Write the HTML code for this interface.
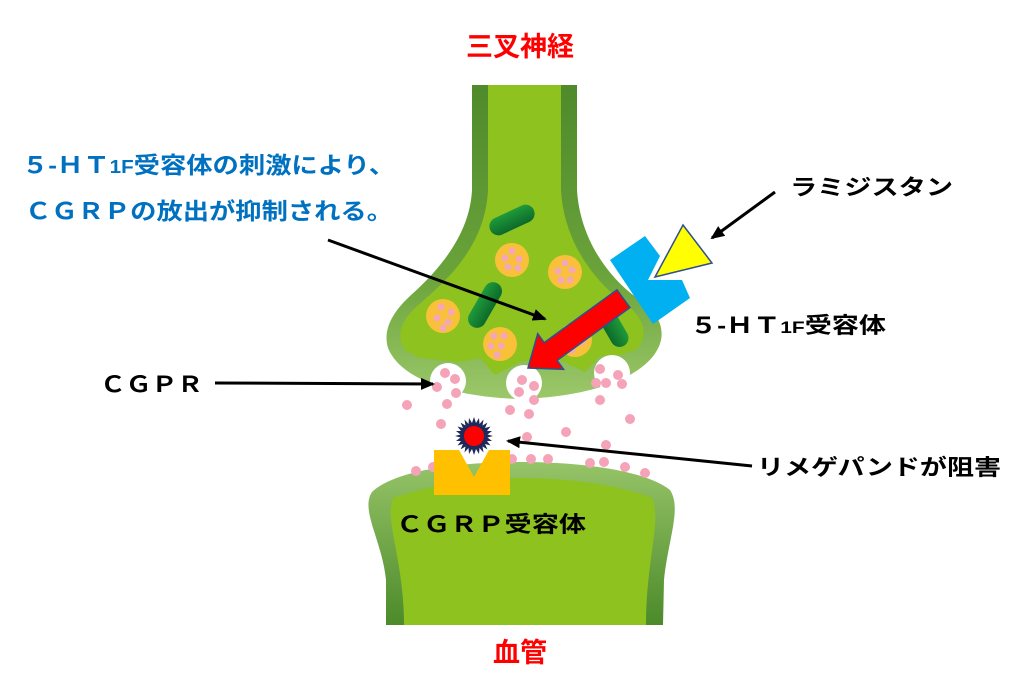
<!DOCTYPE html>
<html><head><meta charset="utf-8"><style>
html,body{margin:0;padding:0;background:#fff;}
svg{display:block;}
text{font-family:"Liberation Sans","Noto Sans CJK JP",sans-serif;font-weight:bold;}
</style></head><body>
<svg width="1033" height="682" viewBox="0 0 1033 682" xmlns="http://www.w3.org/2000/svg">
<defs>
<linearGradient id="ng" x1="0" y1="0" x2="0" y2="1">
<stop offset="0" stop-color="#4f8a2b"/><stop offset="0.6" stop-color="#6aa33a"/><stop offset="1" stop-color="#9cc86a"/>
</linearGradient>
<linearGradient id="vg" x1="0" y1="0" x2="0" y2="1">
<stop offset="0" stop-color="#96c468"/><stop offset="1" stop-color="#4c8a2a"/>
</linearGradient>
<linearGradient id="mg" x1="0" y1="0" x2="0" y2="1">
<stop offset="0" stop-color="#1f9a3a"/><stop offset="1" stop-color="#0c6a2a"/>
</linearGradient>
<marker id="ah" markerWidth="14" markerHeight="12" refX="12" refY="6" orient="auto" markerUnits="userSpaceOnUse">
<path d="M0,0 L14,6 L0,12 Z" fill="#000"/>
</marker>
</defs>

<path d="M472,85 L577,85 L577,190 C580,240 610,280 640,300 C662,315 667,335 656,352 C640,378 590,397 520,399 C450,397 400,378 388,348 C382,328 395,310 410,296 C445,265 470,230 472,190 Z" fill="url(#ng)"/>
<path d="M488,85 L561,85 L561,190 C564,245 598,285 628,306 C646,320 648,338 636,350 L620,355 L600,356 L585,372 L560,360 L540,358 L520,362 L495,375 L480,358 L460,362 L420,358 L405,350 C396,338 400,322 415,308 C442,284 485,250 488,190 Z" fill="#8dc21f"/>
<circle cx="448" cy="381" r="18" fill="#fff"/>
<circle cx="524" cy="383" r="18" fill="#fff"/>
<circle cx="612" cy="373" r="18" fill="#fff"/>

<rect x="488" y="211" width="48" height="18" rx="9" fill="url(#mg)" transform="rotate(-25 512 220)"/>
<rect x="460" y="296" width="50" height="18" rx="9" fill="url(#mg)" transform="rotate(-60 485 305)"/>
<rect x="588" y="316" width="48" height="18" rx="9" fill="url(#mg)" transform="rotate(60 612 325)"/>

<g fill="#f9c03a">
<circle cx="512" cy="260" r="17"/><circle cx="565" cy="272" r="17"/><circle cx="443" cy="316" r="17"/><circle cx="500" cy="344" r="17"/><circle cx="575" cy="340" r="17"/>
</g>
<g fill="#f4a7b9">
<circle cx="512" cy="251" r="3.5"/><circle cx="505" cy="258" r="3.5"/><circle cx="519" cy="259" r="3.5"/><circle cx="508" cy="267" r="3.5"/><circle cx="518" cy="268" r="3.5"/>
<circle cx="565" cy="263" r="3.5"/><circle cx="558" cy="271" r="3.5"/><circle cx="572" cy="270" r="3.5"/><circle cx="561" cy="280" r="3.5"/><circle cx="570" cy="280" r="3.5"/>
<circle cx="441" cy="307" r="3.5"/><circle cx="451" cy="312" r="3.5"/><circle cx="437" cy="318" r="3.5"/><circle cx="448" cy="322" r="3.5"/><circle cx="443" cy="328" r="3.5"/>
<circle cx="494" cy="336" r="3.5"/><circle cx="504" cy="336" r="3.5"/><circle cx="491" cy="346" r="3.5"/><circle cx="501" cy="346" r="3.5"/><circle cx="497" cy="355" r="3.5"/>
<circle cx="577" cy="332" r="3.5"/><circle cx="582" cy="342" r="3.5"/><circle cx="572" cy="350" r="3.5"/>
</g>

<path d="M372,492 C395,470 460,462 520,462 C580,462 645,470 670,490 C682,508 668,540 664,580 L663,625 L386,625 L386,580 C382,540 360,510 372,492 Z" fill="url(#vg)"/>
<path d="M393,498 C430,485 480,478 520,478 C570,478 620,485 652,498 C662,520 646,560 646,625 L404,625 C404,560 384,520 393,498 Z" fill="#8dc21f"/>

<g fill="#f4a3b8">
<circle cx="437" cy="387" r="5"/><circle cx="455" cy="379" r="5"/><circle cx="456" cy="393" r="5"/><circle cx="445" cy="373" r="5"/>
<circle cx="407" cy="405" r="5"/><circle cx="447" cy="404" r="5"/><circle cx="441" cy="424" r="5"/>
<circle cx="522" cy="380" r="5"/><circle cx="534" cy="386" r="5"/><circle cx="519" cy="392" r="5"/><circle cx="534" cy="400" r="5"/>
<circle cx="510" cy="410" r="5"/><circle cx="529" cy="414" r="5"/><circle cx="527" cy="437" r="5"/><circle cx="566" cy="432" r="5"/>
<circle cx="600" cy="369" r="5"/><circle cx="618" cy="375" r="5"/><circle cx="596" cy="383" r="5"/><circle cx="622" cy="384" r="5"/><circle cx="606" cy="383" r="5"/>
<circle cx="600" cy="400" r="5"/><circle cx="630" cy="419" r="5"/><circle cx="606" cy="445" r="5"/><circle cx="604" cy="462" r="5"/>
<circle cx="590" cy="463" r="5"/><circle cx="625" cy="467" r="5"/><circle cx="645" cy="473" r="5"/><circle cx="416" cy="471" r="5"/>
<circle cx="512" cy="459" r="5"/><circle cx="531" cy="459" r="5"/><circle cx="548" cy="459" r="5"/><circle cx="433" cy="467" r="5"/>
</g>

<path d="M434,450 L459,450 L474,477 L489,450 L510,450 L510,495 L434,495 Z" fill="#ffc000"/>
<g transform="translate(474,436)">
<polygon fill="#1f2a5a" points="
0,-19 2,-13 5,-18 5.5,-12 9.5,-16.5 8.5,-10.5 13.4,-13.4 11,-8 16.5,-9.5 13,-5 18,-5 13.5,-1.5 19,0 13.5,1.5 18,5 13,5 16.5,9.5 11,8 13.4,13.4 8.5,10.5 9.5,16.5 5.5,12 5,18 2,13 0,19 -2,13 -5,18 -5.5,12 -9.5,16.5 -8.5,10.5 -13.4,13.4 -11,8 -16.5,9.5 -13,5 -18,5 -13.5,1.5 -19,0 -13.5,-1.5 -18,-5 -13,-5 -16.5,-9.5 -11,-8 -13.4,-13.4 -8.5,-10.5 -9.5,-16.5 -5.5,-12 -5,-18 -2,-13"/>
<circle r="10" fill="#ff0000"/>
</g>

<polygon points="610,260 645,236 660,256 648,280 682,280 690,298 653,324" fill="#00b0f0"/>
<polygon points="683,225 712,263 655,277" fill="#ffff00" stroke="#2f4f8f" stroke-width="1.5"/>

<g transform="translate(528,368) rotate(-36)">
<polygon points="0,0 28,-22 28,-11 118,-11 118,11 28,11 28,22" fill="#ff0000" stroke="#2f4f8f" stroke-width="1.5"/>
</g>

<g stroke="#000" stroke-width="3" fill="none" marker-end="url(#ah)">
<line x1="328" y1="240" x2="545" y2="319"/>
<line x1="215" y1="383" x2="433" y2="384"/>
<line x1="775" y1="192" x2="712" y2="238"/>
<line x1="752" y1="466" x2="508" y2="441"/>
</g>

<text x="520" y="56" text-anchor="middle" font-size="27" fill="#ff0000">三叉神経</text>
<text x="520" y="662" text-anchor="middle" font-size="27" fill="#ff0000">血管</text>
<text x="22" y="173" font-size="23" fill="#0070c0" textLength="373" lengthAdjust="spacingAndGlyphs">５-ＨＴ<tspan font-size="18">1F</tspan>受容体の刺激により、</text>
<text x="25" y="219" font-size="23" fill="#0070c0" textLength="368" lengthAdjust="spacingAndGlyphs">ＣＧＲＰの放出が抑制される。</text>
<text x="790" y="195" font-size="22" fill="#000" textLength="163" lengthAdjust="spacingAndGlyphs">ラミジスタン</text>
<text x="690" y="333" font-size="22" fill="#000" textLength="196" lengthAdjust="spacingAndGlyphs">５-ＨＴ<tspan font-size="17">1F</tspan>受容体</text>
<text x="100" y="392" font-size="22" fill="#000" textLength="103" lengthAdjust="spacingAndGlyphs">ＣＧＰＲ</text>
<text x="757" y="475" font-size="22" fill="#000" textLength="244" lengthAdjust="spacingAndGlyphs">リメゲパンドが阻害</text>
<text x="396" y="532" font-size="22" fill="#000" textLength="190" lengthAdjust="spacingAndGlyphs">ＣＧＲＰ受容体</text>
</svg>
</body></html>
